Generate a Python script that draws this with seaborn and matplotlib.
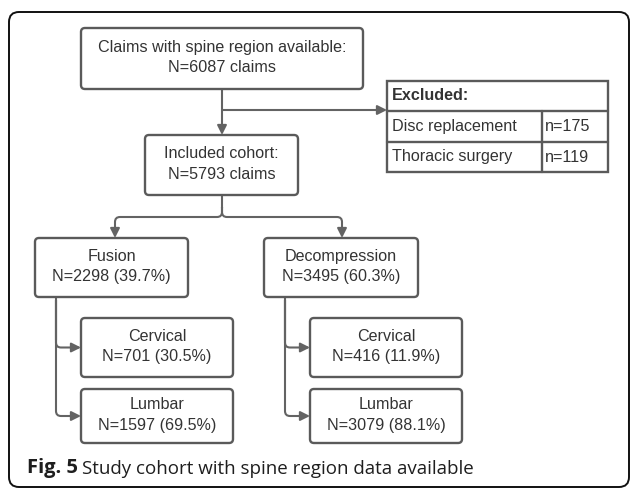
import matplotlib
matplotlib.use("Agg")
import matplotlib.pyplot as plt
import seaborn as sns
from matplotlib.patches import FancyBboxPatch, Rectangle, PathPatch
from matplotlib.path import Path

# ===================== Data =====================
top_label = "Claims with spine region available:"
total_claims = 6087
included_label = "Included cohort:"
included_claims = 5793
excluded_title = "Excluded:"
excluded_reasons = ["Disc replacement", "Thoracic surgery"]
excluded_counts = [175, 119]
procedures = ["Fusion", "Decompression"]
procedure_counts = [2298, 3495]
procedure_pct = [39.7, 60.3]
regions = ["Cervical", "Lumbar"]
region_counts = [[701, 1597], [416, 3079]]
region_pct = [[30.5, 69.5], [11.9, 88.1]]
caption_bold = "Fig. 5"
caption_text = "Study cohort with spine region data available"

# ===================== Style =====================
sns.set_theme(style="white")
plt.rcParams["font.family"] = ["Liberation Sans", "DejaVu Sans"]
EDGE = "#5a5a5a"
LINE = "#636363"
TXT = "#333333"
FS = 11.6

fig = plt.figure(figsize=(6.3, 4.88), dpi=100)
ax = fig.add_axes([0, 0, 1, 1])
ax.set_xlim(0, 630)
ax.set_ylim(488, 0)
ax.axis("off")


def box(x0, y0, x1, y1, lines):
    ax.add_patch(FancyBboxPatch((x0, y0), x1 - x0, y1 - y0,
                                boxstyle="round,pad=0,rounding_size=4",
                                fc="white", ec=EDGE, lw=1.7, zorder=3))
    cx = (x0 + x1) / 2
    cy = (y0 + y1) / 2
    n = len(lines)
    for i, t in enumerate(lines):
        ax.text(cx, cy - 1 + (i - (n - 1) / 2) * 20.5, t, ha="center", va="center",
                fontsize=FS, color=TXT, zorder=4)


def arrow(x0, y0, x1, y1):
    ax.annotate("", xy=(x1, y1), xytext=(x0, y0),
                arrowprops=dict(arrowstyle="-|>", color=LINE, lw=1.5,
                                mutation_scale=14, shrinkA=0, shrinkB=0),
                zorder=2)


def elbow(pts, r=5):
    # polyline with rounded corners
    verts = [pts[0]]
    codes = [Path.MOVETO]
    for i in range(1, len(pts) - 1):
        (xa, ya), (xb, yb), (xc, yc) = pts[i - 1], pts[i], pts[i + 1]
        dx1 = (xb - xa) and (xb - xa) / abs(xb - xa)
        dy1 = (yb - ya) and (yb - ya) / abs(yb - ya)
        dx2 = (xc - xb) and (xc - xb) / abs(xc - xb)
        dy2 = (yc - yb) and (yc - yb) / abs(yc - yb)
        verts += [(xb - dx1 * r, yb - dy1 * r), (xb, yb), (xb + dx2 * r, yb + dy2 * r)]
        codes += [Path.LINETO, Path.CURVE3, Path.CURVE3]
    verts.append(pts[-1])
    codes.append(Path.LINETO)
    ax.add_patch(PathPatch(Path(verts, codes), fc="none", ec=LINE, lw=1.5, zorder=2))


# outer frame
ax.add_patch(FancyBboxPatch((9, 12), 620, 475, boxstyle="round,pad=0,rounding_size=10",
                            fc="white", ec="#111111", lw=1.4, zorder=1))

# top and included boxes
box(81, 28, 363, 89, [top_label, f"N={total_claims} claims"])
box(145, 135, 298, 195, [included_label, f"N={included_claims} claims"])
arrow(222, 89, 222, 135)
arrow(222, 110, 387, 110)

# excluded table
tx0, tx1, tdiv = 387, 608, 542
rows_y = [81, 111, 142, 172]
ax.add_patch(Rectangle((tx0, rows_y[0]), tx1 - tx0, rows_y[-1] - rows_y[0],
                       fc="white", ec=EDGE, lw=1.7, zorder=3))
for y in rows_y[1:-1]:
    ax.plot([tx0, tx1], [y, y], color=EDGE, lw=1.7, zorder=4)
ax.plot([tdiv, tdiv], [rows_y[1], rows_y[-1]], color=EDGE, lw=1.7, zorder=4)
ax.text(tx0 + 5, (rows_y[0] + rows_y[1]) / 2, excluded_title, ha="left", va="center",
        fontsize=FS, fontweight="bold", color=TXT, zorder=5)
for i, (reason, cnt) in enumerate(zip(excluded_reasons, excluded_counts)):
    yc = (rows_y[i + 1] + rows_y[i + 2]) / 2
    ax.text(tx0 + 5, yc, reason, ha="left", va="center", fontsize=FS, color=TXT, zorder=5)
    ax.text(tdiv + 3, yc, f"n={cnt}", ha="left", va="center", fontsize=FS, color=TXT, zorder=5)

# split to procedures
proc_x = [(35, 188), (264, 418)]
proc_mid = [115, 342]
ax.plot([222, 222], [195, 208], color=LINE, lw=1.5, zorder=2)
elbow([(222, 207), (222, 217), (proc_mid[0], 217), (proc_mid[0], 230)])
elbow([(222, 207), (222, 217), (proc_mid[1], 217), (proc_mid[1], 230)])
for m in proc_mid:
    arrow(m, 229, m, 238)

for p, (name, cnt, pct) in enumerate(zip(procedures, procedure_counts, procedure_pct)):
    x0, x1 = proc_x[p]
    box(x0, 238, x1, 297, [name, f"N={cnt} ({pct}%)"])

    # sub boxes
    spine_x = x0 + 21
    sx0 = spine_x + 25
    sx1 = sx0 + 152
    sub_y = [(318, 377), (389, 443)]
    ax.plot([spine_x, spine_x], [297, 340], color=LINE, lw=1.5, zorder=2)
    for r, (reg, rc, rp) in enumerate(zip(regions, region_counts[p], region_pct[p])):
        y0, y1 = sub_y[r]
        yc = (y0 + y1) / 2
        elbow([(spine_x, 300), (spine_x, yc), (sx0 - 9, yc)])
        arrow(sx0 - 10, yc, sx0, yc)
        box(sx0, y0, sx1, y1, [reg, f"N={rc} ({rp}%)"])

# caption
cap_font = ["Open Sans", "DejaVu Sans"]
t1 = ax.text(27, 468, caption_bold, ha="left", va="center", fontsize=14.5, fontweight="bold",
             color="#1e1e1e", family=cap_font, zorder=5)
fig.canvas.draw()
bb = t1.get_window_extent()
x_next = ax.transData.inverted().transform((bb.x1, bb.y0))[0] + 4
ax.text(x_next, 469, caption_text, ha="left", va="center", fontsize=13.5,
        color="#1e1e1e", family=cap_font, zorder=5)

fig.savefig("out.png", dpi=100)
